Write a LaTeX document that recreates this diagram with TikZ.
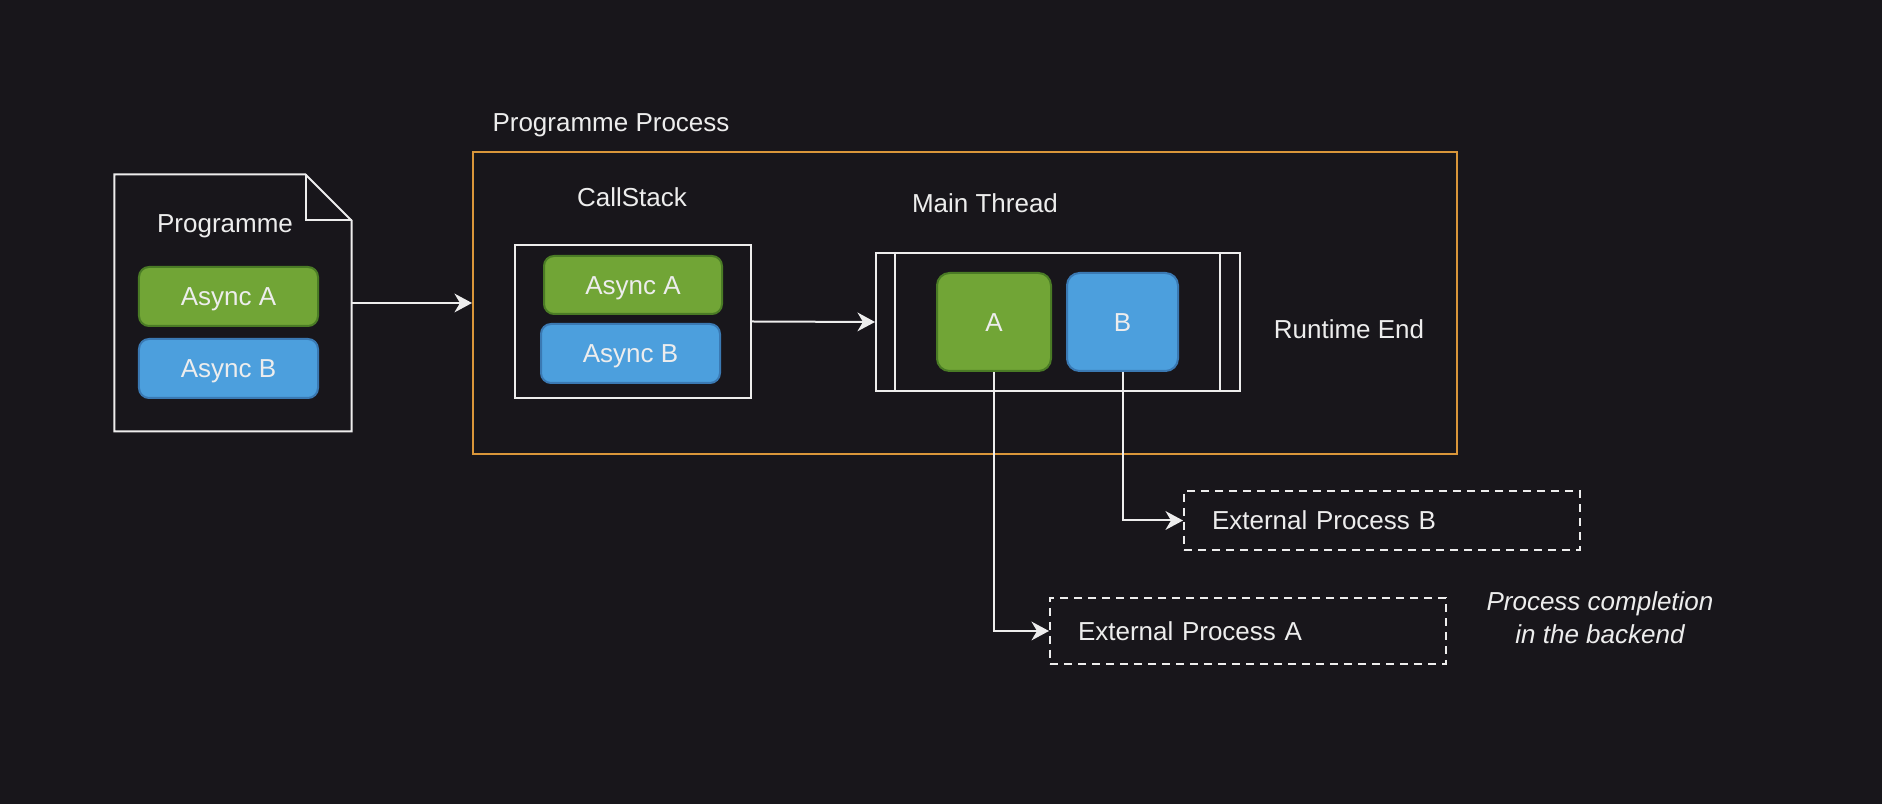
\documentclass[tikz,border=0pt]{standalone}
\usepackage{fontspec}
\setmainfont{Liberation Sans}
\usetikzlibrary{arrows.meta}
\definecolor{bgdark}{HTML}{18161B}
\definecolor{linewhite}{HTML}{EDEDED}
\definecolor{asyncgreen}{HTML}{71A536}
\definecolor{asyncgreenline}{HTML}{4A7B25}
\definecolor{asyncblue}{HTML}{4C9FDD}
\definecolor{asyncblueline}{HTML}{3A79B3}
\definecolor{procorange}{HTML}{D9963A}
\begin{document}
\begin{tikzpicture}[x=0.4pt,y=-0.4pt,
  font=\fontsize{10.4}{13.2}\selectfont,
  every node/.style={text=linewhite},
  plainbox/.style={draw=linewhite,line width=0.8pt,inner sep=0pt},
  greenbox/.style={draw=asyncgreenline,fill=asyncgreen,line width=0.8pt,rounded corners=4pt,inner sep=0pt,text height=7.5pt,text depth=0pt},
  bluebox/.style={draw=asyncblueline,fill=asyncblue,line width=0.8pt,rounded corners=4pt,inner sep=0pt,text height=7.5pt,text depth=0pt},
  extbox/.style={draw=linewhite,line width=0.8pt,dash pattern=on 3.2pt off 2.4pt,minimum width=158.4pt,text width=136pt,inner xsep=11.2pt,inner ysep=0pt,align=left,text height=7.5pt,text depth=0pt},
  flow/.style={draw=linewhite,line width=0.8pt,-{Stealth[length=7pt,width=7.5pt,inset=2.2pt]}}]
\fill[bgdark] (0,0) rectangle (1882,804);
\useasboundingbox (0,0) rectangle (1882,804);

\node[inner sep=0pt,minimum width=94.4pt,minimum height=102.4pt] (prog) at (233,303) {};
\draw[linewhite,line width=0.8pt] (prog.north west) -- ([xshift=-18.4pt]prog.north east) -- ([yshift=-18.4pt]prog.north east) -- (prog.south east) -- (prog.south west) -- cycle;
\draw[linewhite,line width=0.8pt] ([xshift=-18.4pt]prog.north east) |- ([yshift=-18.4pt]prog.north east);
\node (proglabel) at (225,226) {Programme};
\node[greenbox,minimum width=71.6pt,minimum height=23.6pt] (progA) at (228.5,296.5) {Async A};
\node[bluebox,minimum width=71.6pt,minimum height=23.6pt] (progB) at (228.5,368.5) {Async B};

\node[draw=procorange,line width=0.8pt,inner sep=0pt,minimum width=393.6pt,minimum height=120.8pt] (proc) at (965,303) {};
\node[anchor=west,inner sep=0pt] (proclabel) at (492,125) {Programme Process};

\node (stacklabel) at (632,197) {CallStack};
\node[plainbox,minimum width=94.4pt,minimum height=61.2pt] (stack) at (633,321.5) {};
\node[greenbox,minimum width=71.2pt,minimum height=23.2pt] (stackA) at (633,285) {Async A};
\node[bluebox,minimum width=71.6pt,minimum height=23.6pt] (stackB) at (630.5,353.5) {Async B};

\node (mainlabel) at (985,203) {Main Thread};
\node[plainbox,minimum width=145.6pt,minimum height=55.2pt] (main) at (1058,322) {};
\draw[linewhite,line width=0.8pt] ([xshift=8pt]main.north west) -- ([xshift=8pt]main.south west);
\draw[linewhite,line width=0.8pt] ([xshift=-8.4pt]main.north east) -- ([xshift=-8.4pt]main.south east);
\node[greenbox,rounded corners=5pt,minimum width=45.6pt,minimum height=39.2pt] (taskA) at (994,322) {A};
\node[bluebox,rounded corners=5pt,minimum width=44.4pt,minimum height=39.2pt] (taskB) at (1122.5,322) {B};
\node (endlabel) at (1349,329) {Runtime End};

\node[extbox,minimum height=23.6pt] (extB) at (1382,520.5) {External Process B};
\node[extbox,minimum height=26.4pt] (extA) at (1248,631) {External Process A};
\node[align=center,font=\fontsize{10.4}{13.2}\selectfont\itshape] (note) at (1600,618) {Process completion\\in the backend};

\draw[flow] (prog.east) -- (proc.west);
\draw[flow] (stack.east) -- (main.west);
\draw[flow] (taskB.south) |- (extB.west);
\draw[flow] (taskA.south) |- (extA.west);
\end{tikzpicture}
\end{document}
